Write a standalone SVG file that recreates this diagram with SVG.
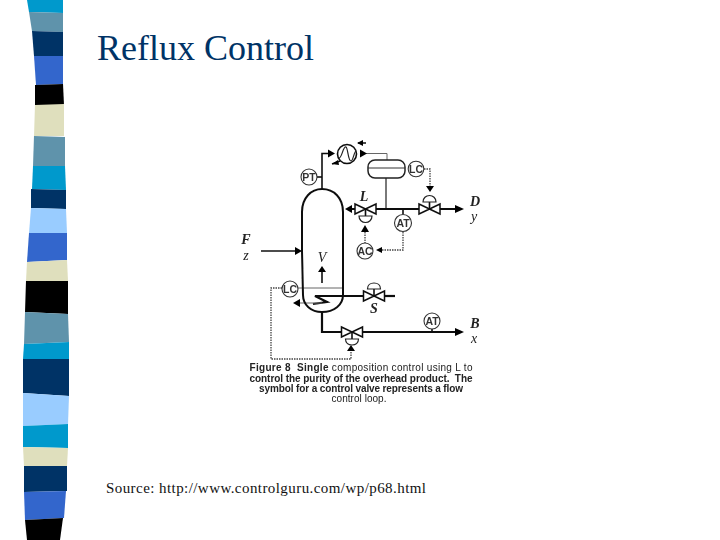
<svg xmlns="http://www.w3.org/2000/svg" width="720" height="540" viewBox="0 0 720 540">
<style>
.ln{fill:none;stroke:#111;stroke-width:1.6}
.thk{fill:none;stroke:#111;stroke-width:2.200}
.gr{fill:none;stroke:#666;stroke-width:1}
.dot{fill:none;stroke:#444;stroke-width:1.300;stroke-dasharray:1.500 1}
.ah{fill:#000;stroke:none}
.ins{fill:#fff;stroke:#333;stroke-width:1.100}
.vb{fill:#fff;stroke:#111;stroke-width:1.500}
.act{fill:#fff;stroke:#222;stroke-width:1.200}
.it{font-family:"Liberation Sans",sans-serif;font-size:10.500px;font-weight:bold;fill:#333;text-anchor:middle}
.lb{font-family:"Liberation Serif",serif;font-size:14px;font-weight:bold;font-style:italic;fill:#222;text-anchor:middle}
.ln2{font-weight:normal}
.cap{font-family:"Liberation Sans",sans-serif;font-size:10px;fill:#222;text-anchor:middle;white-space:pre}
.b{font-weight:bold}
</style>
<defs>
<g id="vh"><path class="vb" d="M-10.500 -5L10.500 5V-5L-10.500 5Z"/></g>
<filter id="soft" x="-5%" y="-5%" width="110%" height="110%"><feGaussianBlur stdDeviation="0.350"/></filter>
</defs>
<g id="strip">
<polygon fill="#0099cc" points="27,0 63,0 63,13 29,12"/>
<polygon fill="#5f93ab" points="29,12 63,13 63,32 32,31"/>
<polygon fill="#003366" points="32,31 63,32 63,56 34,56"/>
<polygon fill="#3366cc" points="34,56 63,56 63,84 36,85"/>
<polygon fill="#000000" points="35,85 63,84 64,105 35,105"/>
<polygon fill="#dfdfbd" points="35,105 64,104 64,136 34,136"/>
<polygon fill="#5f93ab" points="34,136 65,137 65,166 33,166"/>
<polygon fill="#0099cc" points="33,166 65,166 66,190 32,189"/>
<polygon fill="#003366" points="31,189 66,190 66,209 31,208"/>
<polygon fill="#99ccff" points="31,208 66,209 67,233 29,233"/>
<polygon fill="#3366cc" points="29,233 67,233 67,260 27,262"/>
<polygon fill="#dfdfbd" points="27,262 67,260 68,281 26,281"/>
<polygon fill="#000000" points="26,281 68,281 68,314 25,312"/>
<polygon fill="#5f93ab" points="25,312 68,314 69,342 24,344"/>
<polygon fill="#0099cc" points="24,344 69,342 69,359 23,359"/>
<polygon fill="#003366" points="23,359 69,359 69,396 23,393"/>
<polygon fill="#99ccff" points="23,393 69,396 68,424 23,426"/>
<polygon fill="#0099cc" points="23,426 68,424 68,448 23,447"/>
<polygon fill="#dfdfbd" points="23,447 68,448 67,466 24,466"/>
<polygon fill="#003366" points="24,466 67,466 67,491 24,492"/>
<polygon fill="#3366cc" points="24,492 66,491 64,518 25,520"/>
<polygon fill="#000000" points="25,520 63,518 60,540 27,540"/>
</g>
<text x="97" y="60" font-family="'Liberation Serif',serif" font-size="36" fill="#003366">Reflux Control</text>
<text x="106" y="493" font-family="'Liberation Serif',serif" font-size="15" fill="#111" textLength="320">Source: http://www.controlguru.com/wp/p68.html</text>
<g id="figure" filter="url(#soft)">
<g id="connectors">
<path class="ln" d="M322 189V153.500H328"/>
<path class="gr" d="M366 153.500H387V160"/>
<path class="gr" d="M386 178V209" style="stroke:#333;stroke-width:1.300"/>
<path class="thk" d="M352 209H355M376 209H419M440 209H456"/>
<path class="ln" d="M403 209V214"/>
<path class="ln" d="M317 177H322"/>
<path class="ln" d="M261 251H296"/>
<path class="ln" d="M322 272V283"/>
<path class="thk" d="M322 312V332H342M362 332H457"/>
<path class="ln" d="M432 329V332"/>
<path class="thk" d="M364 296H315L327 302L313 304"/>
<path class="thk" d="M384 296H395"/>
<path class="gr" d="M300 303H322M298 288H343"/>
<path class="ln" d="M358 143H366M332 164L340 161"/>
<path class="dot" d="M424 169H430V186"/>
<path class="dot" d="M365 232V243"/>
<path class="dot" d="M403 232V250H381"/>
<path class="dot" d="M282 288H271V359H351V352"/>
<polygon class="ah" points="335,153.500 328,149.500 328,157.500"/>
<polygon class="ah" points="367,153.500 360,149.500 360,157.500"/>
<polygon class="ah" points="357,143 363,140 363,146"/>
<polygon class="ah" points="332,164 338,160 339,165"/>
<polygon class="ah" points="430,192 426,186 434,186"/>
<polygon class="ah" points="345,209 352,205 352,213"/>
<polygon class="ah" points="464,209 455,205 455,213"/>
<polygon class="ah" points="365,225 361,232 369,232"/>
<polygon class="ah" points="376,250 382,247 382,253"/>
<polygon class="ah" points="302,251 295,247 295,255"/>
<polygon class="ah" points="322,266 318,272 326,272"/>
<polygon class="ah" points="293,303 300,299 300,307"/>
<polygon class="ah" points="351,345 347,351 355,351"/>
<polygon class="ah" points="464,332 455,328 455,336"/>
</g>
<g id="column"><path d="M302 251V212C302 198 311 189 322 189C334 189 343 198 343 212V295C343 305 334 312 322 312C311 312 303 305 303 295L302 251Z" fill="none" stroke="#111" stroke-width="2"/></g>
<g id="condenser"><circle class="ins" cx="347" cy="154" r="9.500" style="stroke-width:1.600;stroke:#111"/><path d="M339 158C342 158 343 146 346 147C348 148 348 161 351 161C353 161 354 152 356 151" fill="none" stroke="#222" stroke-width="1.200"/></g>
<g id="drum"><rect x="368" y="160" width="37" height="18" rx="7" fill="#fff" stroke="#222" stroke-width="1.500"/><path class="gr" d="M368 168H405" style="stroke:#333"/></g>
<g id="lc-top"><circle class="ins" cx="416" cy="169" r="7.800"/><text class="it" x="416" y="173">LC</text></g>
<g id="pt"><circle class="ins" cx="309" cy="177" r="8"/><text class="it" x="309" y="181">PT</text></g>
<g id="valve-l"><use href="#vh" x="365.500" y="209"/><path class="ln" d="M365.500 209V216"/><path class="act" d="M359 216H372C372 220 369 222.500 365.500 222.500C362 222.500 359 220 359 216Z"/></g>
<g id="valve-d"><use href="#vh" x="429.500" y="209"/><path class="ln" d="M429.500 209V202"/><path class="act" d="M423 202H436C436 198 433 195.500 429.500 195.500C426 195.500 423 198 423 202Z"/></g>
<g id="at-top"><circle class="ins" cx="403" cy="223" r="8.500"/><text class="it" x="403" y="227">AT</text></g>
<g id="ac"><circle class="ins" cx="365" cy="251" r="8"/><text class="it" x="365" y="255">AC</text></g>
<g id="lc-bottom"><circle class="ins" cx="290" cy="289" r="8"/><text class="it" x="290" y="293">LC</text></g>
<g id="valve-s"><use href="#vh" x="374" y="296"/><path class="ln" d="M374 296V289"/><path class="act" d="M367.500 289H380.500C380.500 285 377.500 283 374 283C370.500 283 367.500 285 367.500 289Z"/></g>
<g id="valve-b"><use href="#vh" x="352" y="332"/><path class="ln" d="M352 332V339"/><path class="act" d="M345.500 339H358.500C358.500 343 355.500 345 352 345C348.500 345 345.500 343 345.500 339Z"/></g>
<g id="at-bottom"><circle class="ins" cx="432" cy="321" r="8"/><text class="it" x="432" y="325">AT</text></g>
<g id="labels">
<text class="lb" x="246" y="244">F</text>
<text class="lb ln2" x="246" y="260">z</text>
<text class="lb ln2" x="322" y="262">V</text>
<text class="lb" x="364" y="201">L</text>
<text class="lb" x="374" y="313">S</text>
<text class="lb" x="475" y="206">D</text>
<text class="lb ln2" x="474" y="221">y</text>
<text class="lb" x="475" y="328">B</text>
<text class="lb ln2" x="474" y="343">x</text>
</g>
<g id="caption">
<text class="cap" x="361" y="371" textLength="223"><tspan class="b">Figure 8  Single</tspan> composition control using L to</text>
<text class="cap b" x="361" y="381.500" textLength="223">control the purity of the overhead product.  The</text>
<text class="cap b" x="361" y="391.500" textLength="204">symbol for a control valve represents a flow</text>
<text class="cap" x="359" y="401.500" textLength="55">control loop.</text>
</g>
</g>
</svg>
